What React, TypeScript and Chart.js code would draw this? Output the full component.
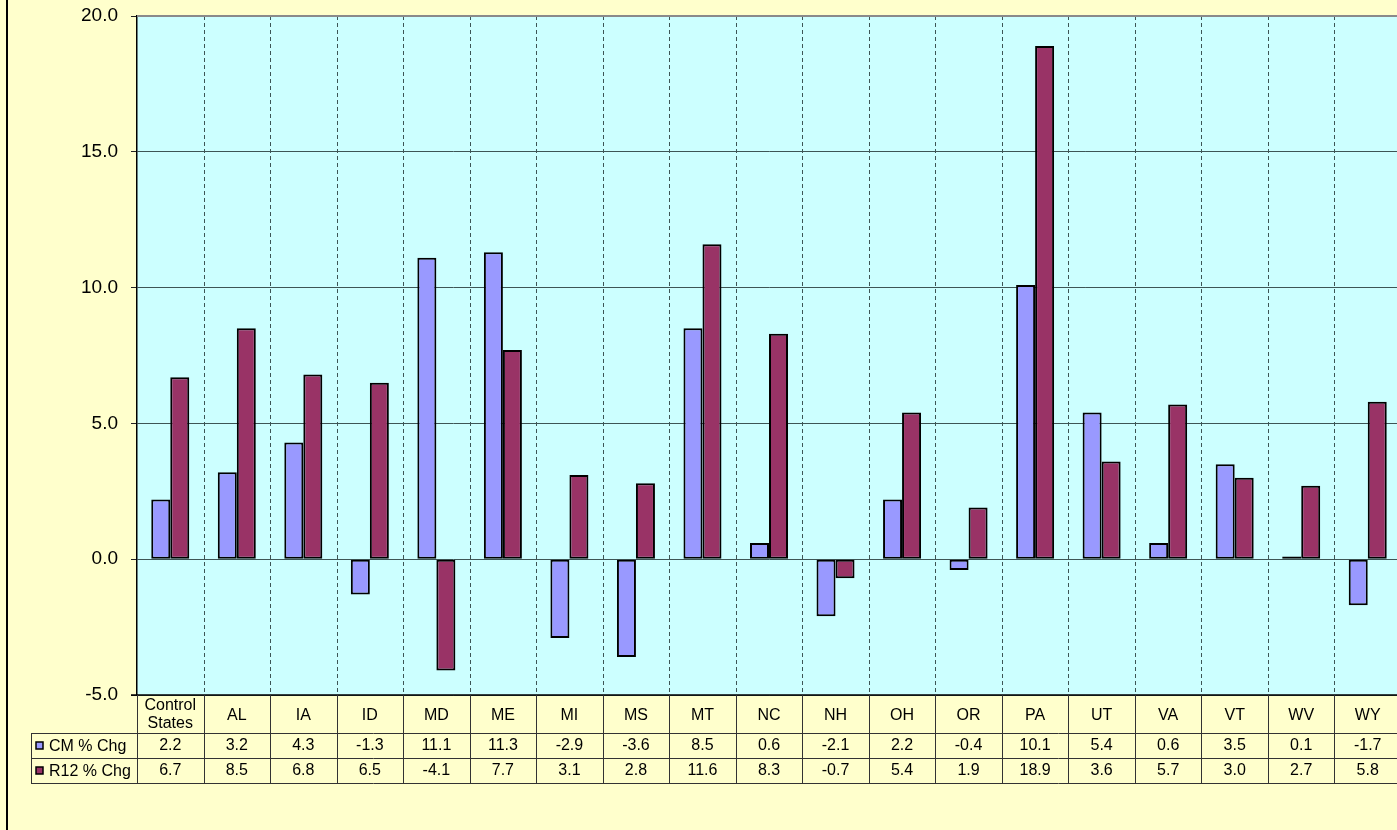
import React, { useEffect, useRef } from "react";
import { Chart, registerables } from "chart.js";

Chart.register(...registerables);

const categories = ["Control States", "AL", "IA", "ID", "MD", "ME", "MI", "MS", "MT", "NC", "NH", "OH", "OR", "PA", "UT", "VA", "VT", "WV", "WY"];
const cmValues = [2.2, 3.2, 4.3, -1.3, 11.1, 11.3, -2.9, -3.6, 8.5, 0.6, -2.1, 2.2, -0.4, 10.1, 5.4, 0.6, 3.5, 0.1, -1.7];
const r12Values = [6.7, 8.5, 6.8, 6.5, -4.1, 7.7, 3.1, 2.8, 11.6, 8.3, -0.7, 5.4, 1.9, 18.9, 3.6, 5.7, 3.0, 2.7, 5.8];
const seriesNames = ["CM % Chg", "R12 % Chg"];
const seriesColors = ["#9999FF", "#993366"];
const yMin = -5;
const yMax = 20;
const yStep = 5;

const FONT = "'Liberation Sans', Arial, sans-serif";

const tablePlugin = {
  id: "excelTable",
  beforeDraw(chart: any) {
    const { ctx, chartArea } = chart;
    ctx.save();
    ctx.fillStyle = "#FFFFCC";
    ctx.fillRect(0, 0, chart.width, chart.height);
    ctx.fillStyle = "#CCFFFF";
    ctx.fillRect(chartArea.left, chartArea.top, chartArea.right - chartArea.left, chartArea.bottom - chartArea.top);
    ctx.restore();
  },
  beforeDatasetsDraw(chart: any) {
    const { ctx, chartArea, scales } = chart;
    const x = scales.x;
    const n = categories.length;
    const w = (chartArea.right - chartArea.left) / n;
    ctx.save();
    ctx.strokeStyle = "#3d5555";
    ctx.lineWidth = 1;
    ctx.setLineDash([4, 3]);
    for (let i = 0; i < n; i++) {
      const bx = Math.round(x.getPixelForValue(i) + w / 2) + 0.5;
      ctx.beginPath();
      ctx.moveTo(bx, chartArea.top);
      ctx.lineTo(bx, chartArea.bottom);
      ctx.stroke();
    }
    ctx.restore();
  },
  afterDraw(chart: any) {
    const { ctx, chartArea, scales } = chart;
    const x = scales.x;
    const n = categories.length;
    const w = (chartArea.right - chartArea.left) / n;
    const top = chartArea.bottom;
    const r1 = top + 38;
    const r2 = r1 + 25;
    const r3 = r2 + 25;
    const legendLeft = 31;
    ctx.save();
    // page left border
    ctx.fillStyle = "#000";
    ctx.fillRect(6, 0, 2, chart.height);
    // plot top border
    ctx.fillStyle = "#8a8a8a";
    ctx.fillRect(chartArea.left, chartArea.top - 1, chartArea.right - chartArea.left, 2);
    // bottom axis line
    ctx.strokeStyle = "#000";
    ctx.lineWidth = 1.5;
    ctx.beginPath();
    ctx.moveTo(chartArea.left - 6, top);
    ctx.lineTo(chartArea.right, top);
    ctx.stroke();
    // table lines
    ctx.strokeStyle = "#333";
    ctx.lineWidth = 1;
    for (const yy of [r1, r2, r3]) {
      ctx.beginPath();
      ctx.moveTo(legendLeft, yy + 0.5);
      ctx.lineTo(chartArea.right, yy + 0.5);
      ctx.stroke();
    }
    ctx.beginPath();
    ctx.moveTo(legendLeft + 0.5, r1);
    ctx.lineTo(legendLeft + 0.5, r3);
    ctx.stroke();
    ctx.beginPath();
    ctx.moveTo(chartArea.left + 0.5, top);
    ctx.lineTo(chartArea.left + 0.5, r3);
    ctx.stroke();
    for (let i = 0; i < n; i++) {
      const bx = Math.round(x.getPixelForValue(i) + w / 2) + 0.5;
      ctx.beginPath();
      ctx.moveTo(bx, top);
      ctx.lineTo(bx, r3);
      ctx.stroke();
    }
    // header labels
    ctx.fillStyle = "#000";
    ctx.font = `16px ${FONT}`;
    ctx.textAlign = "center";
    ctx.textBaseline = "middle";
    for (let i = 0; i < n; i++) {
      const cx = x.getPixelForValue(i);
      const label = categories[i];
      if (label.includes(" ")) {
        const parts = label.split(" ");
        ctx.fillText(parts[0], cx, top + 11);
        ctx.fillText(parts[1], cx, top + 29);
      } else {
        ctx.fillText(label, cx, top + 21);
      }
      ctx.fillText(cmValues[i].toFixed(1), cx, r1 + 13);
      ctx.fillText(r12Values[i].toFixed(1), cx, r2 + 13);
    }
    // legend column
    const rows = [r1, r2];
    ctx.textAlign = "left";
    for (let s = 0; s < 2; s++) {
      const cy = rows[s] + 12.5;
      ctx.fillStyle = seriesColors[s];
      ctx.fillRect(36, cy - 3.5, 7, 7);
      ctx.strokeStyle = "#000";
      ctx.lineWidth = 1.5;
      ctx.strokeRect(36, cy - 3.5, 7, 7);
      ctx.fillStyle = "#000";
      ctx.fillText(seriesNames[s], 49, cy + 1);
    }
    ctx.restore();
  },
};

export default function App() {
  const ref = useRef<HTMLCanvasElement | null>(null);
  useEffect(() => {
    if (!ref.current) return;
    const chart = new Chart(ref.current, {
      type: "bar",
      data: {
        labels: categories,
        datasets: [
          {
            label: seriesNames[0],
            data: cmValues,
            backgroundColor: seriesColors[0],
            borderColor: "#000",
            borderWidth: 2,
            borderSkipped: false,
            categoryPercentage: 2 / 3.5,
            barPercentage: 1,
          },
          {
            label: seriesNames[1],
            data: r12Values,
            backgroundColor: seriesColors[1],
            borderColor: "#000",
            borderWidth: 2,
            borderSkipped: false,
            categoryPercentage: 2 / 3.5,
            barPercentage: 1,
          },
        ],
      },
      options: {
        responsive: false,
        animation: false,
        events: [],
        layout: { padding: { left: 0, top: 16, right: 0, bottom: 135 } },
        plugins: { legend: { display: false }, tooltip: { enabled: false } },
        scales: {
          x: { display: false },
          y: {
            min: yMin,
            max: yMax,
            afterFit: (s: any) => {
              s.width = 137;
              s.paddingTop = 0;
              s.paddingBottom = 0;
            },
            ticks: {
              stepSize: yStep,
              padding: 13,
              color: "#000",
              font: { family: FONT, size: 19 },
              callback: (v: any) => Number(v).toFixed(1),
            },
            grid: {
              color: "#3d5555",
              lineWidth: 1,
              tickLength: 6,
              tickColor: "#222",
            },
            border: { color: "#000", width: 1.5 },
          },
        },
      },
      plugins: [tablePlugin],
    });
    return () => chart.destroy();
  }, []);
  return (
    <div
      style={{
        position: "fixed",
        left: 0,
        top: 0,
        width: 1397,
        height: 830,
        overflow: "hidden",
        background: "#FFFFCC",
      }}
    >
      <canvas ref={ref} width={1401} height={830} style={{ display: "block" }} />
    </div>
  );
}
